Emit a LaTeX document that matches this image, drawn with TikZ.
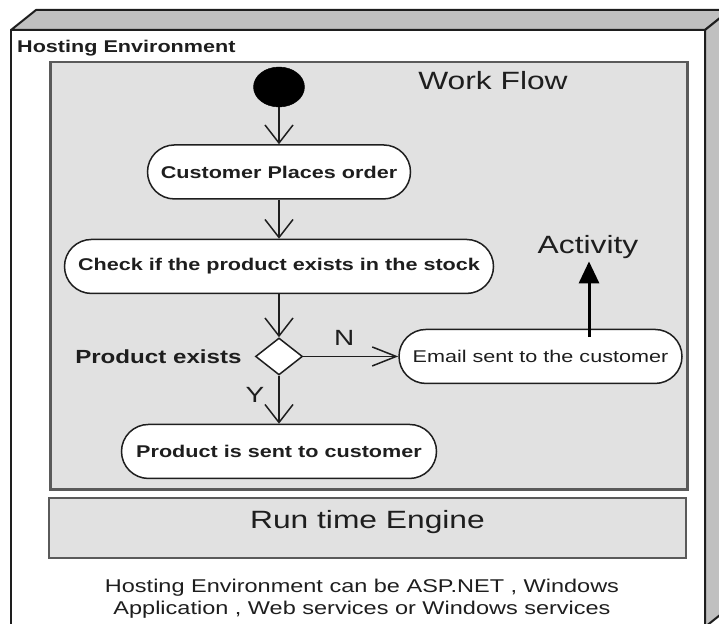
\documentclass[tikz,border=0pt]{standalone}
\usepackage{fontspec}
\usepackage{xcolor}
\usepackage{tikz}
\usetikzlibrary{arrows.meta, positioning, shapes.geometric}

\newfontfamily\diagfont[FakeStretch=1.27]{Liberation Sans}
\definecolor{facegray}{HTML}{C0C0C0}
\definecolor{panelgray}{HTML}{E1E1E1}
\definecolor{edgegray}{HTML}{5A5A5A}
\definecolor{inkgray}{HTML}{1E1E1E}

\begin{document}
\begin{tikzpicture}[
    x=1pt, y=-1pt,
    every node/.style={font=\diagfont\fontsize{17}{20}\selectfont, text=inkgray},
    face/.style={
        draw=inkgray,
        line width=2pt,
        line join=round
    },
    panel/.style={
        draw=edgegray,
        fill=panelgray,
        line width=2.5pt,
        minimum width=637pt
    },
    action/.style={
        draw=inkgray,
        fill=white,
        line width=1.5pt,
        rounded corners=27pt,
        minimum height=54pt,
        inner sep=0pt
    },
    tag/.style={inner sep=0pt},
    bigtext/.style={font=\diagfont\fontsize{25}{30}\selectfont},
    boldtext/.style={font=\diagfont\bfseries\fontsize{17}{20}\selectfont},
    flow/.style={-{Straight Barb[length=18pt, width=28pt]}, line width=1.5pt, draw=inkgray},
    pointer/.style={-{Triangle[length=22pt, width=20pt]}, line width=3pt, draw=black}
]

\useasboundingbox (0,0) rectangle (719,623);
\clip (0,0) rectangle (719,623);

% hosting environment (3d frame)
\draw[face, fill=facegray] (11,30) -- (36,10) -- (730,10) -- (705,30) -- cycle;
\draw[face, fill=facegray] (705,30) -- (730,10) -- (730,607) -- (705,627) -- cycle;
\draw[face, fill=white] (11,30) rectangle (705,627);
\node[tag, boldtext, anchor=base west] (hostlabel) at (17,53) {Hosting Environment};

% work flow
\node[panel, minimum height=427pt, anchor=north west] (workflow) at (49,61) {};
\node[tag, bigtext, anchor=base] (wftitle) at (493,90) {Work Flow};

\node[ellipse, fill=black, draw=black, minimum width=51pt, minimum height=40pt, inner sep=0pt] (start) at (279,87) {};

\node[action, boldtext, minimum width=263pt, below=37pt of start] (customer) {Customer Places order};
\node[action, boldtext, minimum width=429pt, below=39pt of customer] (check) {Check if the product exists in the stock};
\node[diamond, draw=inkgray, fill=white, line width=1.5pt, minimum width=47pt, minimum height=37pt, inner sep=0pt, below=43pt of check] (decision) {};
\node[action, boldtext, minimum width=315pt, below=48pt of decision] (sent) {Product is sent to customer};
\node[action, minimum width=283pt, right=95pt of decision] (email) {Email sent to the customer};

\node[tag, font=\diagfont\bfseries\fontsize{19}{22}\selectfont, left=13pt of decision] (existslabel) {Product exists};

\node[tag, bigtext, anchor=base] (activity) at (588,253) {Activity};
\coordinate (actfoot) at (589,337);

\draw[flow] (start) -- (customer);
\draw[flow] (customer) -- (check);
\draw[flow] (check) -- (decision);
\draw[flow] (decision) -- node[tag, font=\diagfont\fontsize{22}{26}\selectfont, left=14pt, pos=0.4] (ymark) {Y} (sent);
\draw[flow, -{Straight Barb[length=24pt, width=19pt]}] (decision) -- node[tag, font=\diagfont\fontsize{22}{26}\selectfont, above=10pt, pos=0.43] (nmark) {N} (email);
\draw[pointer, shorten >=3pt] (actfoot) -- (actfoot |- activity.south);

% run time engine
\node[panel, minimum height=60pt, text height=18pt, text depth=18pt, bigtext] (engine) at (367.5,528) {Run time Engine};

\node[tag, align=center, anchor=north, font=\diagfont\fontsize{18.5}{22}\selectfont] (hostnote) at (362,578.5) {Hosting Environment can be ASP.NET , Windows\\Application , Web services or Windows services};

\end{tikzpicture}
\end{document}
